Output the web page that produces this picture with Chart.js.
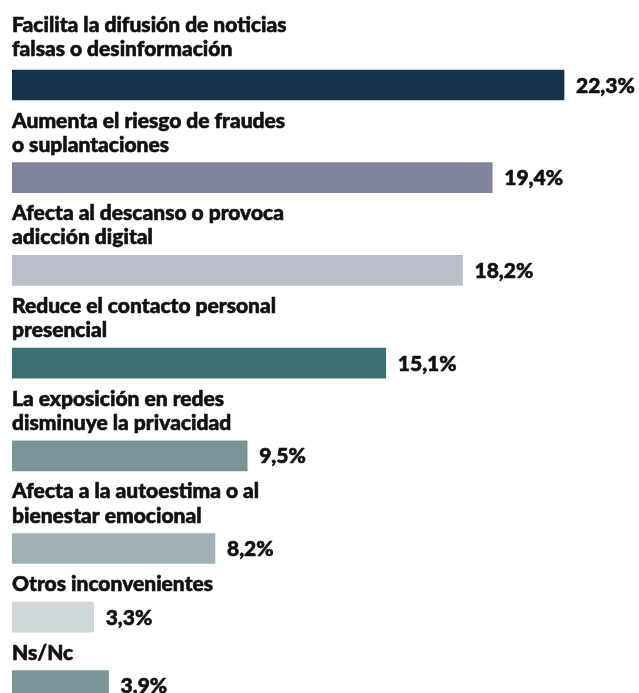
<!DOCTYPE html>
<html>
<head>
<meta charset="utf-8">
<script src="https://cdn.jsdelivr.net/npm/chart.js@4/dist/chart.umd.min.js"></script>
<style>
  html, body { margin: 0; padding: 0; background: #ffffff; }
  #wrap { width: 639px; height: 693px; }
</style>
</head>
<body>
<div id="wrap"><canvas id="c" width="639" height="693"></canvas></div>
<script>
// ---- Data ----
const categories = [
  ["Facilita la difusión de noticias", "falsas o desinformación"],
  ["Aumenta el riesgo de fraudes", "o suplantaciones"],
  ["Afecta al descanso o provoca", "adicción digital"],
  ["Reduce el contacto personal", "presencial"],
  ["La exposición en redes", "disminuye la privacidad"],
  ["Afecta a la autoestima o al", "bienestar emocional"],
  ["Otros inconvenientes"],
  ["Ns/Nc"]
];
const values = [22.3, 19.4, 18.2, 15.1, 9.5, 8.2, 3.3, 3.9];
const valueLabels = ["22,3%", "19,4%", "18,2%", "15,1%", "9,5%", "8,2%", "3,3%", "3,9%"];
const barColors = ["#15324f", "#7f849d", "#babdcc", "#3b7171", "#7a9597", "#9fb1b3", "#d0d8da", "#7a9597"];

// ---- Layout (row slots depend on how many label lines sit above each bar) ----
const FIRST_CENTER = 85;
const ROW_BASE = 44.5;
const LINE_H = 24.1;
const rowPos = [];
categories.forEach((lines, i) => {
  if (i === 0) rowPos.push(FIRST_CENTER);
  else rowPos.push(rowPos[i - 1] + ROW_BASE + LINE_H * lines.length);
});

const FONT = "900 21px Lato, 'Open Sans', sans-serif";
const TEXT_COLOR = "#111111";

function heavyText(ctx, txt, x, y) {
  ctx.fillText(txt, x, y);
  ctx.strokeText(txt, x, y);
}

const labelPlugin = {
  id: "labels",
  afterDatasetsDraw(chart) {
    const ctx = chart.ctx;
    const meta = chart.getDatasetMeta(0);
    ctx.save();
    ctx.font = FONT;
    ctx.fillStyle = TEXT_COLOR;
    ctx.strokeStyle = TEXT_COLOR;
    ctx.lineWidth = 0.6;
    ctx.lineJoin = "round";
    ctx.textAlign = "left";
    ctx.textBaseline = "alphabetic";
    meta.data.forEach((bar, i) => {
      const top = bar.y - bar.height / 2;
      const lines = categories[i];
      const left = chart.chartArea.left;
      const gap = i === 0 ? 14 : 11;
      lines.forEach((ln, k) => {
        const baseline = top - gap - (lines.length - 1 - k) * LINE_H;
        heavyText(ctx, ln, left, baseline);
      });
      heavyText(ctx, valueLabels[i], bar.x + 12, bar.y + 7.5);
    });
    ctx.restore();
  }
};

new Chart(document.getElementById("c"), {
  type: "bar",
  data: {
    datasets: [{
      data: values.map((v, i) => ({ x: v, y: rowPos[i] })),
      backgroundColor: barColors,
      borderWidth: 0,
      barThickness: 30
    }]
  },
  options: {
    indexAxis: "y",
    responsive: false,
    animation: false,
    devicePixelRatio: 1,
    layout: { padding: { left: 12, right: 0, top: 0, bottom: 0 } },
    plugins: { legend: { display: false }, tooltip: { enabled: false } },
    scales: {
      x: { type: "linear", min: 0, max: 25.33, display: false, offset: false },
      y: { type: "linear", min: 0, max: 693, reverse: true, display: false, offset: false }
    }
  },
  plugins: [labelPlugin]
});
</script>
</body>
</html>
